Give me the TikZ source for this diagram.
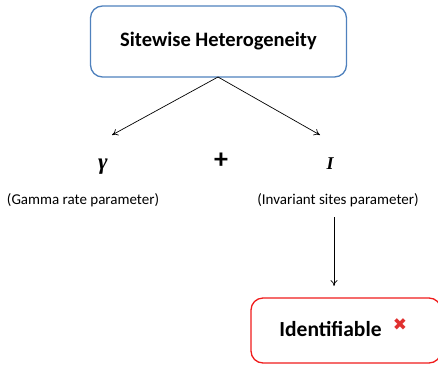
\documentclass[tikz,border=0pt]{standalone}
\usepackage{fontspec}
\setmainfont{Carlito}
\newfontfamily\symfont{DejaVu Sans}
\newfontfamily\greekfont{Liberation Serif}
\usetikzlibrary{arrows.meta}
\definecolor{boxblue}{HTML}{4F81BD}
\definecolor{boxred}{HTML}{F01C1C}
\definecolor{crossred}{HTML}{E0302F}
\begin{document}
\begin{tikzpicture}[x=1pt,y=-1pt,
  box/.style={draw, rounded corners=12pt, line width=1.3pt, minimum width=#1, align=center, inner sep=0pt},
  lbl/.style={font=\fontsize{15}{17}\selectfont, inner sep=0pt},
  conn/.style={-{To[length=6pt,width=7pt]}, line width=0.7pt}]
\useasboundingbox (0,0) rectangle (438,364);
\node[box=256pt, draw=boxblue, minimum height=71pt, font=\fontsize{20.5}{23}\selectfont\bfseries] (top) at (218.5,41.5) {Sitewise Heterogeneity};
\node[inner sep=0pt, anchor=base, font=\fontsize{23}{25}\selectfont\greekfont\bfseries\itshape] (g) at (103,169) {γ};
\node[inner sep=0pt, font=\fontsize{28}{30}\selectfont\bfseries] (plus) at (221,161) {+};
\node[inner sep=0pt, anchor=base, font=\fontsize{18}{20}\selectfont\greekfont\bfseries\itshape] (iv) at (330,169) {I};
\node[lbl] (gl) at (83,200) {(Gamma rate parameter)};
\node[lbl] (il) at (338,200) {(Invariant sites parameter)};
\coordinate (apex) at (218,77);
\coordinate (ga) at (112,135);
\coordinate (ia) at (320,135);
\draw[conn] (apex) -- (ga);
\draw[conn] (apex) -- (ia);
\coordinate (vs) at (334,217);
\coordinate (ve) at (334,286);
\draw[conn] (vs) -- (ve);
\node[box=190pt, draw=boxred, minimum height=65pt] (id) at (346,330.5) {};
\node[inner sep=0pt, anchor=base, font=\fontsize{21.5}{24}\selectfont\bfseries] (idt) at (330.5,336) {Identifiable};
\node[inner sep=0pt, text=crossred, font=\fontsize{17}{19}\selectfont\symfont] (x) at (400,325) {✖};
\end{tikzpicture}
\end{document}
